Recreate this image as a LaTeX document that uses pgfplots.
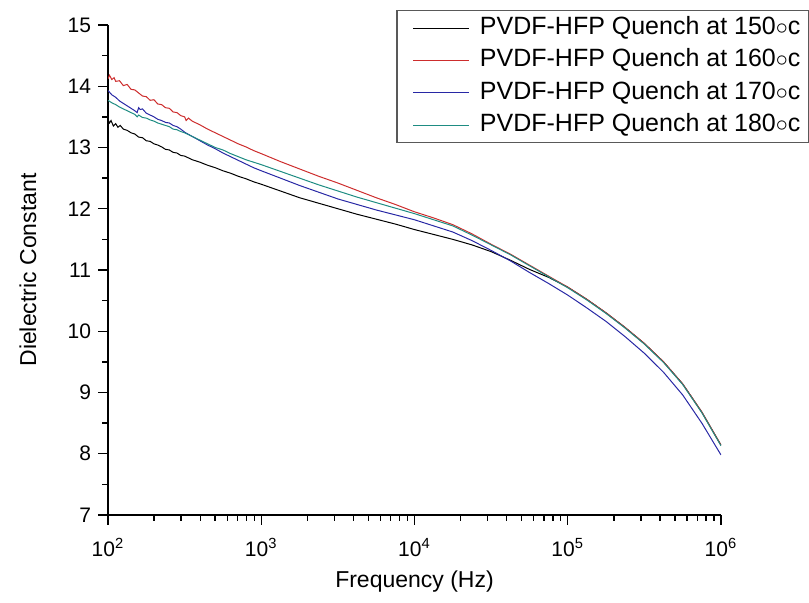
\documentclass[border=0pt]{standalone}
\usepackage{fontspec}
\setmainfont{Liberation Sans}
\usepackage{pgfplots}
\pgfplotsset{compat=1.18}

\definecolor{cRed}{RGB}{205,45,45}
\definecolor{cBlue}{RGB}{40,40,165}
\definecolor{cTeal}{RGB}{30,140,130}

\begin{document}
\begin{tikzpicture}
\useasboundingbox (-54pt,-44pt) rectangle (350.5pt,257.5pt);
\begin{axis}[
    at={(0,0)}, anchor=south west,
    scale only axis, width=306.5pt, height=245pt,
    xmode=log, xmin=100, xmax=1e6, ymin=7, ymax=15,
    axis x line*=bottom, axis y line*=left,
    axis line style={line width=0.7pt},
    tick align=outside, major tick length=5pt, minor tick length=3pt,
    tick style={black, line width=0.7pt},
    xtick={1e2,1e3,1e4,1e5,1e6},
    xticklabels={10\textsuperscript{2},10\textsuperscript{3},10\textsuperscript{4},10\textsuperscript{5},10\textsuperscript{6}},
    xticklabel style={yshift=-3pt},
    ytick={7,8,...,15}, minor y tick num=1,
    /pgf/number format/assume math mode=true,
    ticklabel style={font=\fontsize{10.5}{12}\selectfont},
    xlabel={Frequency (Hz)}, ylabel={Dielectric Constant},
    label style={font=\fontsize{11.5}{13}\selectfont},
    xlabel style={at={(axis description cs:0.5,-0.1367)}, anchor=center},
    ylabel style={at={(axis description cs:-0.1305,0.5)}, anchor=center},
    legend cell align=left,
    legend image code/.code={\path (-6pt,0pt); \draw[#1] (0pt,0pt) -- (28pt,0pt);},
    legend style={at={(axis description cs:1.1436,1.0300)}, anchor=north east,
        draw=gray!70!black, line width=0.6pt, font=\fontsize{12.5}{14}\selectfont,
        row sep=0pt, inner xsep=2pt, inner ysep=0.5pt,
        nodes={inner ysep=2.3pt, text height=9pt, text depth=2.6pt},
        /tikz/every odd column/.append style={column sep=3pt}},
    every axis plot/.append style={line width=0.5pt},
]
% 150 C
\addplot[black] table {
100 13.46
102.3 13.40
104.7 13.44
108.4 13.35
112.2 13.39
116.1 13.33
120.2 13.36
125.9 13.30
133.4 13.28
141.3 13.24
149.6 13.22
158.5 13.17
167.9 13.16
177.8 13.11
188.4 13.10
199.5 13.06
211.3 13.04
223.9 13.01
237.1 12.97
251.2 12.96
266.1 12.92
281.8 12.91
298.5 12.87
316.2 12.86
354.8 12.80
398.1 12.76
446.7 12.71
501.2 12.67
562.3 12.62
631.0 12.58
707.9 12.53
794.3 12.49
891.3 12.44
1000 12.40
1334 12.29
1778 12.18
2371 12.09
3162 12.00
4217 11.91
5623 11.83
7499 11.75
10000 11.66
13335 11.58
17783 11.50
23714 11.41
31623 11.30
42170 11.16
56234 11.01
74989 10.88
100000 10.72
133352 10.52
177828 10.30
237137 10.06
316228 9.80
421697 9.50
562341 9.14
749894 8.68
1000000 8.14
};
% 160 C
\addplot[cRed] table {
100 14.12
102.3 14.18
105.9 14.11
109.6 14.14
112.2 14.08
118.9 14.09
125.9 14.01
133.4 14.03
141.3 13.95
149.6 13.94
158.5 13.89
167.9 13.84
177.8 13.83
188.4 13.77
199.5 13.78
211.3 13.71
223.9 13.70
237.1 13.65
251.2 13.64
266.1 13.58
281.8 13.57
298.5 13.52
316.2 13.50
323.6 13.44
335.0 13.48
354.8 13.43
398.1 13.37
446.7 13.30
501.2 13.24
562.3 13.18
631.0 13.12
707.9 13.06
794.3 13.01
891.3 12.95
1000 12.90
1334 12.77
1778 12.65
2371 12.53
3162 12.42
4217 12.30
5623 12.18
7499 12.07
10000 11.95
13335 11.85
17783 11.74
23714 11.59
31623 11.42
42170 11.26
56234 11.08
74989 10.90
100000 10.72
133352 10.52
177828 10.30
237137 10.06
316228 9.80
421697 9.50
562341 9.14
749894 8.68
1000000 8.14
};
% 170 C
\addplot[cBlue] table {
100 13.93
105.9 13.86
112.2 13.82
118.9 13.76
125.9 13.72
133.4 13.68
141.3 13.64
149.6 13.60
154.9 13.57
158.5 13.65
162.2 13.62
167.9 13.63
177.8 13.56
188.4 13.53
199.5 13.50
211.3 13.46
223.9 13.44
237.1 13.41
251.2 13.40
266.1 13.36
281.8 13.34
298.5 13.30
316.2 13.25
354.8 13.18
398.1 13.11
446.7 13.04
501.2 12.98
562.3 12.91
631.0 12.85
707.9 12.79
794.3 12.73
891.3 12.67
1000 12.62
1334 12.50
1778 12.38
2371 12.27
3162 12.16
4217 12.07
5623 11.98
7499 11.90
10000 11.82
13335 11.72
17783 11.62
23714 11.48
31623 11.32
42170 11.15
56234 10.96
74989 10.78
100000 10.59
133352 10.38
177828 10.16
237137 9.91
316228 9.64
421697 9.33
562341 8.96
749894 8.50
1000000 7.98
};
% 180 C
\addplot[cTeal] table {
100 13.77
105.9 13.73
112.2 13.70
118.9 13.66
125.9 13.63
133.4 13.60
141.3 13.57
149.6 13.54
154.9 13.50
158.5 13.53
167.9 13.49
177.8 13.48
188.4 13.45
199.5 13.43
211.3 13.40
223.9 13.38
237.1 13.36
251.2 13.34
266.1 13.30
281.8 13.29
298.5 13.26
316.2 13.24
354.8 13.18
398.1 13.12
446.7 13.06
501.2 13.00
562.3 12.96
631.0 12.90
707.9 12.85
794.3 12.80
891.3 12.76
1000 12.72
1334 12.61
1778 12.50
2371 12.39
3162 12.29
4217 12.19
5623 12.10
7499 12.01
10000 11.92
13335 11.82
17783 11.72
23714 11.57
31623 11.41
42170 11.25
56234 11.07
74989 10.89
100000 10.71
133352 10.51
177828 10.29
237137 10.05
316228 9.79
421697 9.49
562341 9.13
749894 8.67
1000000 8.13
};
\legend{PVDF-HFP Quench at 150$\circ$c, PVDF-HFP Quench at 160$\circ$c,
        PVDF-HFP Quench at 170$\circ$c, PVDF-HFP Quench at 180$\circ$c}
\end{axis}
\end{tikzpicture}
\end{document}
